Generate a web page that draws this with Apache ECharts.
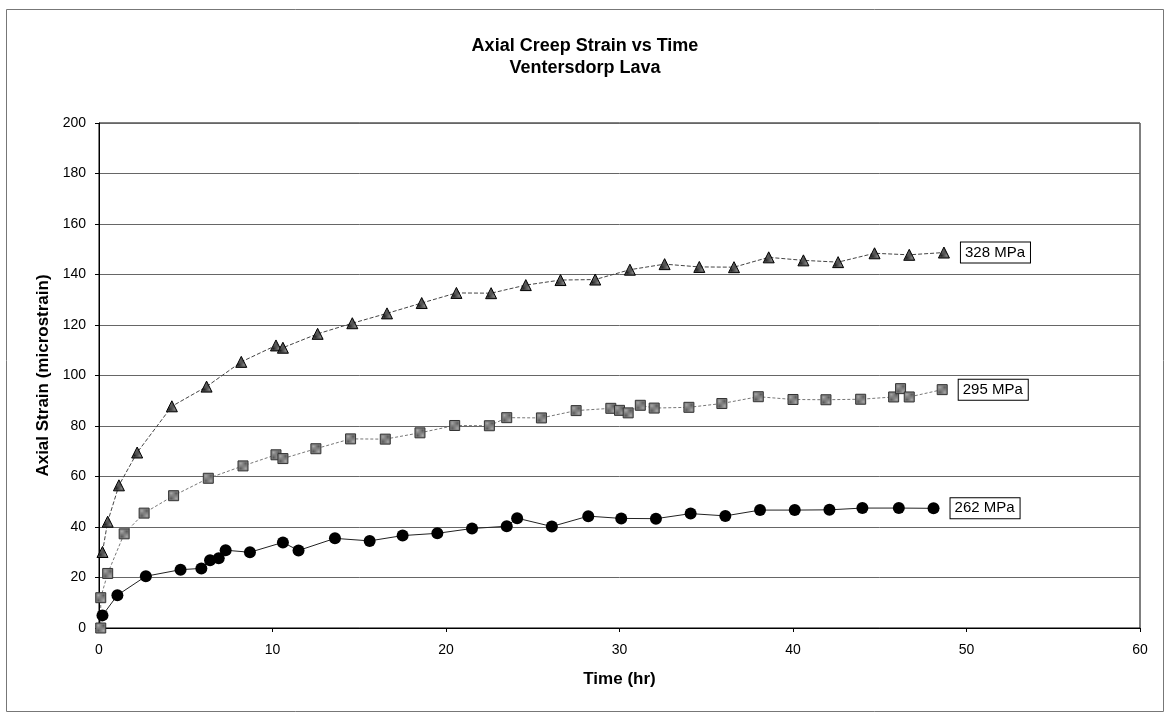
<!DOCTYPE html>
<html>
<head>
<meta charset="utf-8">
<script src="https://cdn.jsdelivr.net/npm/echarts@6/dist/echarts.min.js"></script>
<style>
  html, body { margin: 0; padding: 0; background: #fff; }
  #chart { width: 1170px; height: 715px; }
</style>
</head>
<body>
<div id="chart"></div>
<script>
// Creep test readings: time (hr) and axial strain (microstrain) for each load level
const seriesNames = ['262 MPa', '295 MPa', '328 MPa'];

const time262 = [0.2, 1.06, 2.7, 4.7, 5.9, 6.4, 6.9, 7.3, 8.7, 10.6, 11.5, 13.6, 15.6, 17.5, 19.5, 21.5, 23.5, 24.1, 26.1, 28.2, 30.1, 32.1, 34.1, 36.1, 38.1, 40.1, 42.1, 44.0, 46.1, 48.1];
const strain262 = [5.0, 13.0, 20.5, 23.1, 23.6, 26.8, 27.6, 30.8, 30.0, 33.9, 30.7, 35.5, 34.5, 36.6, 37.5, 39.4, 40.3, 43.5, 40.2, 44.3, 43.4, 43.3, 45.3, 44.4, 46.7, 46.7, 46.8, 47.5, 47.5, 47.4];

const time295 = [0.1, 0.1, 0.5, 1.45, 2.6, 4.3, 6.3, 8.3, 10.2, 10.6, 12.5, 14.5, 16.5, 18.5, 20.5, 22.5, 23.5, 25.5, 27.5, 29.5, 30.0, 30.5, 31.2, 32.0, 34.0, 35.9, 38.0, 40.0, 41.9, 43.9, 45.8, 46.2, 46.7, 48.6];
const strain295 = [0, 12.0, 21.6, 37.3, 45.5, 52.4, 59.3, 64.2, 68.6, 67.1, 71.0, 74.9, 74.8, 77.3, 80.2, 80.1, 83.3, 83.2, 86.1, 87.0, 86.2, 85.2, 88.2, 87.1, 87.4, 88.9, 91.6, 90.5, 90.4, 90.6, 91.5, 94.8, 91.5, 94.4];

const time328 = [0.2, 0.5, 1.15, 2.2, 4.2, 6.2, 8.2, 10.2, 10.6, 12.6, 14.6, 16.6, 18.6, 20.6, 22.6, 24.6, 26.6, 28.6, 30.6, 32.6, 34.6, 36.6, 38.6, 40.6, 42.6, 44.7, 46.7, 48.7];
const strain328 = [30.1, 42.1, 56.5, 69.5, 87.8, 95.6, 105.4, 111.9, 111.0, 116.5, 120.7, 124.6, 128.7, 132.7, 132.6, 135.8, 137.8, 138.0, 141.9, 144.1, 143.0, 142.9, 146.8, 145.6, 144.9, 148.4, 147.8, 148.7];

const xTicks = { min: 0, max: 60, interval: 10 };
const yTicks = { min: 0, max: 200, interval: 20 };

const FONT = '"Liberation Sans", Arial, sans-serif';

// small checker fill, like the printed marker shading
function checker(c1, c2, cell) {
  const cv = document.createElement('canvas');
  cv.width = cell * 2; cv.height = cell * 2;
  const g = cv.getContext('2d');
  g.fillStyle = c1; g.fillRect(0, 0, cell * 2, cell * 2);
  g.fillStyle = c2; g.fillRect(0, 0, cell, cell); g.fillRect(cell, cell, cell, cell);
  return { image: cv, repeat: 'repeat' };
}

// pair times with strains; the last reading carries the load label
function buildData(times, strains) {
  return times.map((t, i) => {
    const item = { value: [t, strains[i]] };
    if (i === times.length - 1) item.label = { show: true };
    return item;
  });
}

const endLabel = {
  show: false,
  position: 'right',
  distance: 11,
  formatter: p => p.seriesName,
  color: '#000',
  fontFamily: FONT,
  fontSize: 15,
  lineHeight: 17,
  backgroundColor: '#fff',
  borderColor: '#000',
  borderWidth: 1,
  padding: [2, 5, 1, 4]
};

const chart = echarts.init(document.getElementById('chart'), null, { renderer: 'canvas' });

chart.setOption({
  backgroundColor: '#fff',
  animation: false,
  title: {
    text: 'Axial Creep Strain vs Time\nVentersdorp Lava',
    left: 'center',
    top: 30,
    textStyle: { fontFamily: FONT, fontWeight: 'bold', fontSize: 18, lineHeight: 22, color: '#000' }
  },
  graphic: [{
    type: 'rect',
    shape: { x: 6.5, y: 9.5, width: 1157, height: 702 },
    style: { fill: 'none', stroke: '#777', lineWidth: 1 },
    silent: true
  }],
  grid: {
    left: 99, right: 30, top: 123, bottom: 87,
    show: true, borderColor: '#000', borderWidth: 1, backgroundColor: 'transparent'
  },
  xAxis: {
    type: 'value',
    min: xTicks.min, max: xTicks.max, interval: xTicks.interval,
    name: 'Time (hr)',
    nameLocation: 'middle',
    nameGap: 43,
    nameTextStyle: { fontFamily: FONT, fontWeight: 'bold', fontSize: 17, color: '#000' },
    axisLine: { show: true, lineStyle: { color: '#000', width: 1 } },
    axisTick: { show: true, inside: false, length: 4, lineStyle: { color: '#000' } },
    axisLabel: { margin: 15, fontFamily: FONT, fontSize: 14, color: '#000' },
    splitLine: { show: false }
  },
  yAxis: {
    type: 'value',
    min: yTicks.min, max: yTicks.max, interval: yTicks.interval,
    name: 'Axial Strain (microstrain)',
    nameLocation: 'middle',
    nameGap: 44,
    nameRotate: 90,
    nameTextStyle: { fontFamily: FONT, fontWeight: 'bold', fontSize: 17, color: '#000' },
    axisLine: { show: true, lineStyle: { color: '#000', width: 1 } },
    axisTick: { show: true, inside: false, length: 4, lineStyle: { color: '#000' } },
    axisLabel: { margin: 13, fontFamily: FONT, fontSize: 14, color: '#000' },
    splitLine: { show: true, lineStyle: { color: '#666', width: 1 } }
  },
  series: [
    {
      name: seriesNames[0],
      type: 'line',
      data: buildData(time262, strain262),
      symbol: 'circle',
      symbolSize: 12,
      lineStyle: { color: '#222', width: 1 },
      itemStyle: { color: '#000', borderColor: '#000', borderWidth: 0 },
      label: endLabel,
      z: 4
    },
    {
      name: seriesNames[1],
      type: 'line',
      data: buildData(time295, strain295),
      symbol: 'rect',
      symbolSize: 10,
      lineStyle: { color: '#777', width: 1, type: [3, 2] },
      itemStyle: { color: checker('#5a5a5a', '#a8a8a8', 1), borderColor: '#333', borderWidth: 1 },
      label: endLabel,
      z: 3
    },
    {
      name: seriesNames[2],
      type: 'line',
      data: buildData(time328, strain328),
      symbol: 'triangle',
      symbolSize: 11,
      lineStyle: { color: '#444', width: 1, type: [4, 2] },
      itemStyle: { color: checker('#222', '#888', 1), borderColor: '#000', borderWidth: 1 },
      label: endLabel,
      z: 3
    }
  ]
});
</script>
</body>
</html>
